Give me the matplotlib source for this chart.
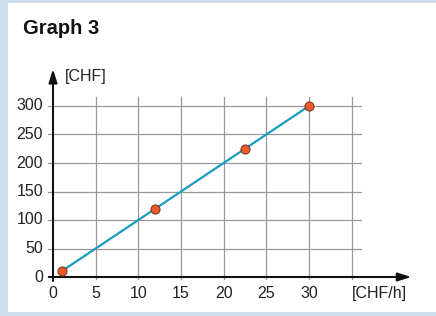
import matplotlib.pyplot as plt
from matplotlib.patches import Rectangle

# data
rate = [1, 12, 22.5, 30]          # CHF/h
cost = [10, 120, 225, 300]        # CHF
x_ticks = [0, 5, 10, 15, 20, 25, 30]
y_ticks = [0, 50, 100, 150, 200, 250, 300]
x_grid = [5, 10, 15, 20, 25, 30, 35]
y_grid = [50, 100, 150, 200, 250, 300]

W, H = 436, 316
BG = "#cbe0ea"
GRID = "#9a9a9a"
LINE = "#1b9bbf"
DOT = "#ee5a2a"
TXT = "#222222"
FS = 11.5

plt.rcParams["font.family"] = ["Liberation Sans", "DejaVu Sans"]

fig = plt.figure(figsize=(W / 100, H / 100), dpi=100, facecolor=BG)
fig.patches.append(Rectangle((8 / W, 4 / H), 1, (H - 7) / H, transform=fig.transFigure,
                             facecolor="white", edgecolor="none", zorder=-5))

fig.text(23 / W, 1 - 34.5 / H, "Graph 3", fontsize=14.5, fontweight="bold",
         va="baseline", ha="left", color="#111111")

# pixel frame: x=0 at 53px, 8.533 px/unit; y=0 at 277px, 0.57 px/unit
x0, y0 = 53, 277
sx, sy = 8.533, 0.570
left_px, right_px, top_px = 53, 412, 66
ax = fig.add_axes([left_px / W, (H - y0) / H, (right_px - left_px) / W, (y0 - top_px) / H])
ax.set_zorder(2)
ax.set_xlim(0, (right_px - x0) / sx)
ax.set_ylim(0, (y0 - top_px) / sy)
ax.axis("off")

x_grid_end = 36.1
y_grid_end = 316
for g in y_grid:
    ax.plot([-0.6, x_grid_end], [g, g], color=GRID, lw=0.9, clip_on=False, zorder=1)
for g in x_grid:
    ax.plot([g, g], [-4, y_grid_end], color=GRID, lw=0.9, clip_on=False, zorder=1)

# axes with arrows
ax.annotate("", xy=(42.0, 0), xytext=(-0.5, 0),
            arrowprops=dict(arrowstyle="-|>,head_length=0.8,head_width=0.25",
                            color="#111111", lw=1.5, shrinkA=0, shrinkB=0), annotation_clip=False)
ax.annotate("", xy=(0, 365), xytext=(0, -6),
            arrowprops=dict(arrowstyle="-|>,head_length=0.8,head_width=0.25",
                            color="#111111", lw=1.5, shrinkA=0, shrinkB=0), annotation_clip=False)
ax.plot([0, 0], [0, -7], color="#111111", lw=1.2, clip_on=False)

for t in y_ticks:
    ax.text(-1.15, t, str(t), ha="right", va="center", fontsize=FS, color=TXT)
for t in x_ticks:
    ax.text(t, -37.7, str(t), ha="center", va="baseline", fontsize=FS, color=TXT)
ax.text(38.3, -37.7, "[CHF/h]", ha="center", va="baseline", fontsize=FS, color=TXT)
ax.text(1.4, 351, "[CHF]", ha="left", va="center", fontsize=FS, color=TXT)

ax.plot(rate, cost, color=LINE, lw=1.6, zorder=3, clip_on=False)
ax.plot(rate, cost, "o", ms=6.5, mfc=DOT, mec="#7a3a20", mew=0.8, zorder=4, clip_on=False)

fig.savefig("out.png", dpi=100, facecolor=BG)
